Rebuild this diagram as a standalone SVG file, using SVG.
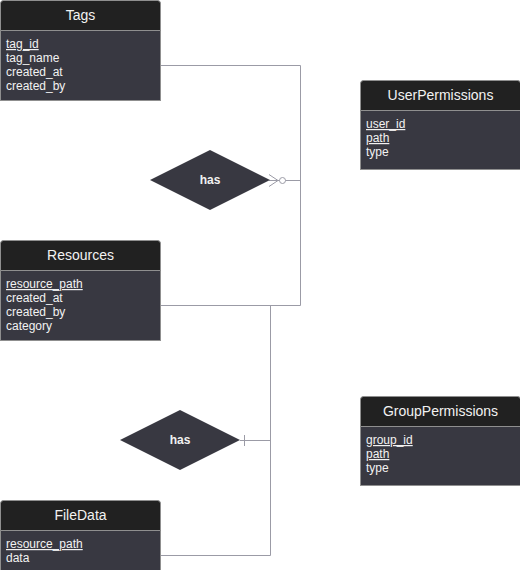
<svg xmlns="http://www.w3.org/2000/svg" width="520" height="570" viewBox="0 0 520 570">
<style>
.hd{fill:#212121;stroke:#8f8f8f;stroke-width:1}
.bd{fill:#383841;stroke:#8f8f8f;stroke-width:1}
.ht{font-family:"Liberation Sans",Arial,sans-serif;font-size:14px;fill:#f2f2f2;text-anchor:middle}
.ft{font-family:"Liberation Sans",Arial,sans-serif;font-size:12px;fill:#f2f2f2}
.pk{text-decoration:underline}
.dm{fill:#383841}
.dt{font-family:"Liberation Sans",Arial,sans-serif;font-size:12px;font-weight:bold;fill:#f2f2f2;text-anchor:middle}
.ln{fill:none;stroke:#9b9ba6;stroke-width:1}
</style>
<rect width="520" height="570" fill="#ffffff"/>
<g id="connectors">
<polyline class="ln" points="160.5,65.5 300.5,65.5 300.5,305.5 160.5,305.5"/>
<line class="ln" x1="270" y1="180.5" x2="300.5" y2="180.5"/>
<path class="ln" d="M269,174.5 L278,180.5 L269,186.5 M269,180.5 L278,180.5"/>
<circle cx="282.5" cy="180.5" r="3" fill="#ffffff" stroke="#9b9ba6" stroke-width="1"/>
<polyline class="ln" points="270.5,305.5 270.5,555.5 160.5,555.5"/>
<line class="ln" x1="240" y1="440.5" x2="270.5" y2="440.5"/>
<line class="ln" x1="244.5" y1="435" x2="244.5" y2="446"/>
</g>
<g id="Tags">
<rect class="bd" x="0.5" y="30.5" width="160" height="70"/>
<path class="hd" d="M0.5,30.5 V3.5 Q0.5,0.5 3.5,0.5 H157.5 Q160.5,0.5 160.5,3.5 V30.5 Z"/>
<text class="ht" x="80.5" y="20">Tags</text>
<text class="ft pk" x="6" y="48">tag_id</text>
<text class="ft" x="6" y="62">tag_name</text>
<text class="ft" x="6" y="76">created_at</text>
<text class="ft" x="6" y="90">created_by</text>
</g>
<g id="has1">
<polygon class="dm" points="150,180 210,150 270,180 210,210"/>
<text class="dt" x="210" y="184">has</text>
</g>
<g id="Resources">
<rect class="bd" x="0.5" y="270.5" width="160" height="70"/>
<path class="hd" d="M0.5,270.5 V243.5 Q0.5,240.5 3.5,240.5 H157.5 Q160.5,240.5 160.5,243.5 V270.5 Z"/>
<text class="ht" x="80.5" y="260">Resources</text>
<text class="ft pk" x="6" y="288">resource_path</text>
<text class="ft" x="6" y="302">created_at</text>
<text class="ft" x="6" y="316">created_by</text>
<text class="ft" x="6" y="330">category</text>
</g>
<g id="has2">
<polygon class="dm" points="120,440 180,410 240,440 180,470"/>
<text class="dt" x="180" y="444">has</text>
</g>
<g id="FileData">
<rect class="bd" x="0.5" y="530.5" width="160" height="50"/>
<path class="hd" d="M0.5,530.5 V503.5 Q0.5,500.5 3.5,500.5 H157.5 Q160.5,500.5 160.5,503.5 V530.5 Z"/>
<text class="ht" x="80.5" y="520">FileData</text>
<text class="ft pk" x="6" y="548">resource_path</text>
<text class="ft" x="6" y="562">data</text>
</g>
<g id="UserPermissions">
<rect class="bd" x="360.5" y="110.5" width="160" height="59"/>
<path class="hd" d="M360.5,110.5 V83.5 Q360.5,80.5 363.5,80.5 H517.5 Q520.5,80.5 520.5,83.5 V110.5 Z"/>
<text class="ht" x="440.5" y="100">UserPermissions</text>
<text class="ft pk" x="366" y="128">user_id</text>
<text class="ft pk" x="366" y="142">path</text>
<text class="ft" x="366" y="156">type</text>
</g>
<g id="GroupPermissions">
<rect class="bd" x="360.5" y="426.5" width="160" height="59"/>
<path class="hd" d="M360.5,426.5 V399.5 Q360.5,396.5 363.5,396.5 H517.5 Q520.5,396.5 520.5,399.5 V426.5 Z"/>
<text class="ht" x="440.5" y="416">GroupPermissions</text>
<text class="ft pk" x="366" y="444">group_id</text>
<text class="ft pk" x="366" y="458">path</text>
<text class="ft" x="366" y="472">type</text>
</g>
</svg>
